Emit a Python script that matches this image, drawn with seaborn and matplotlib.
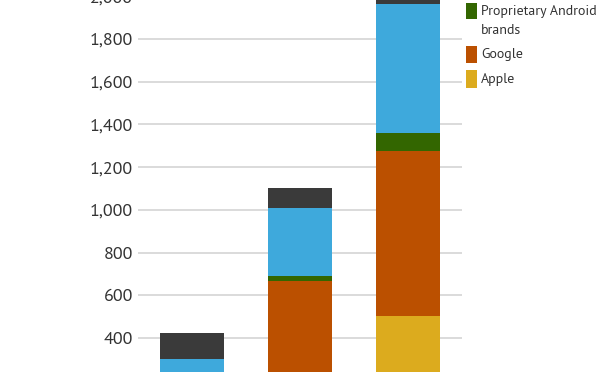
import matplotlib
matplotlib.use("Agg")
import matplotlib.pyplot as plt
import seaborn as sns
import numpy as np
from matplotlib.patches import Rectangle
from matplotlib.ticker import FuncFormatter
from matplotlib import font_manager as fm

categories = ["2011", "2012", "2013"]
apple = [80, 150, 503]
google = [60, 517, 774]
proprietary = [10, 23, 84]
other_android = [150, 319, 603]
other = [122, 94, 56]

series_names = ["Apple", "Google", "Proprietary Android\nbrands", "Other Android", "Other"]
series_values = [apple, google, proprietary, other_android, other]
colors = ["#dcab1e", "#bb5000", "#336600", "#3ea9dc", "#3a3a3a"]
yticks = [400, 600, 800, 1000, 1200, 1400, 1600, 1800, 2000]

sns.set_style("white")
regular = {f.name for f in fm.fontManager.ttflist if f.weight in (400, "normal", "regular") and f.style == "normal"}
prefs = ["Myriad Pro", "PT Sans", "Source Sans Pro", "Source Sans 3", "Fira Sans Condensed",
         "Roboto Condensed", "Liberation Sans Narrow", "Lato"]
family = next((p for p in prefs if p in regular), "DejaVu Sans")
plt.rcParams['font.family'] = [family, 'DejaVu Sans']
plt.rcParams['font.weight'] = 'normal'

W, H = 600, 372
fig = plt.figure(figsize=(W / 100, H / 100), dpi=100)
ax = fig.add_axes([0.23, -0.138, 0.54, 1.148])

bottom = np.zeros(len(categories))
for name, vals, c in zip(series_names, series_values, colors):
    sns.barplot(x=categories, y=vals, bottom=bottom, color=c, width=0.6,
                ax=ax, linewidth=0, saturation=1, zorder=3)
    bottom = bottom + np.array(vals)

ax.set_xlim(-0.5, 2.5)
ax.set_ylim(0, 2000)
ax.set_yticks(yticks)
ax.yaxis.set_major_formatter(FuncFormatter(lambda v, p: f"{int(v):,}"))
ax.grid(axis="y", color="#d4d4d4", linewidth=1.2, zorder=0)
ax.set_axisbelow(True)
for s in ax.spines.values():
    s.set_visible(False)
ax.tick_params(axis="y", length=0, pad=3.5, labelsize=13, labelcolor="#333333")
ax.set_xticks([])
ax.set_xlabel("")
ax.set_ylabel("")

# legend (visible part): (series index, patch top px, patch bottom px)
legend_items = [(2, 3, 19), (1, 46, 63), (0, 70, 88)]
for idx, ptop, pbot in legend_items:
    fig.patches.append(Rectangle((466 / W, 1 - pbot / H), 11 / W, (pbot - ptop) / H,
                                 transform=fig.transFigure, facecolor=colors[idx],
                                 edgecolor="none"))
    lines = series_names[idx].split("\n")
    y0 = 11 if len(lines) > 1 else (ptop + pbot) / 2
    for k, line in enumerate(lines):
        fig.text(481 / W, 1 - (y0 + 20 * k) / H, line, ha="left", va="center",
                 fontsize=10, color="#333333")

fig.savefig("out.png", dpi=100)
